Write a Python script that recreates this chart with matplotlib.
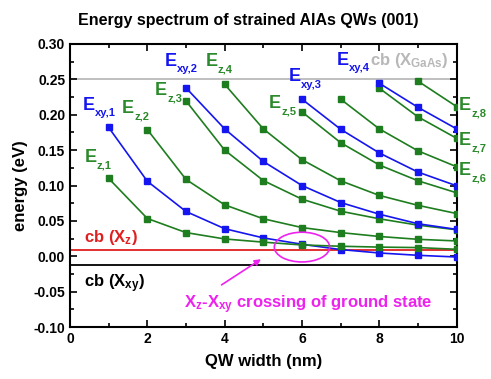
import numpy as np
import matplotlib.pyplot as plt
from matplotlib.patches import Ellipse
from matplotlib.ticker import MultipleLocator

# QW width (nm) and subband energies (eV); each series ends at width 10
width = np.arange(1, 11)

ez1 = [0.110, 0.0534, 0.0335, 0.0245, 0.020, 0.016, 0.0142, 0.013, 0.0123, 0.0099]
ez2 = [0.179, 0.1086, 0.0727, 0.053, 0.0406, 0.0335, 0.028, 0.024, 0.0217]
ez3 = [0.2195, 0.150, 0.107, 0.0807, 0.0637, 0.053, 0.044, 0.0375]
ez4 = [0.243, 0.180, 0.1365, 0.1067, 0.086, 0.072, 0.0604]
ez5 = [0.204, 0.1605, 0.129, 0.1067, 0.0897]
ez6 = [0.222, 0.180, 0.149, 0.1265]
ez7 = [0.2375, 0.197, 0.1667]
ez8 = [0.2475, 0.2115]

exy1 = [0.182, 0.106, 0.0633, 0.039, 0.026, 0.017, 0.0095, 0.0047, 0.0014, -0.001]
exy2 = [0.238, 0.180, 0.134, 0.100, 0.076, 0.0595, 0.046, 0.038]
exy3 = [0.222, 0.1795, 0.146, 0.119, 0.0996]
exy4 = [0.2445, 0.2105, 0.180]

cb_gaas = 0.25
cb_xz = 0.0085
cb_xxy = -0.013

plt.rcParams['font.family'] = ['Liberation Sans', 'DejaVu Sans']
plt.rcParams['font.weight'] = 'bold'
plt.rcParams['mathtext.fontset'] = 'custom'
for k in ['rm', 'it', 'bf', 'sf']:
    plt.rcParams['mathtext.' + k] = 'Liberation Sans:bold'

blue = '#1515f0'
green = '#1e7d1e'
green_txt = '#2b8a2b'
magenta = '#ee22ee'

fig = plt.figure(figsize=(4.91, 3.79), dpi=100)
ax = fig.add_axes([0.1426, 0.137, 0.7874, 0.747])

ax.axhline(cb_gaas, color='#b4b4b4', lw=1.2, zorder=1)
ax.axhline(cb_xz, color='#e02020', lw=1.3, zorder=1)
ax.axhline(cb_xxy, color='black', lw=1.3, zorder=1)

def draw(e, c):
    ax.plot(width[-len(e):], e, '-s', color=c, lw=1.2, ms=4.5, zorder=3)

draw(exy1, blue)
for e in [ez1, ez2, ez3, ez4, ez5, ez6, ez7, ez8]:
    draw(e, green)
for e in [exy2, exy3, exy4]:
    draw(e, blue)

# subband labels: big E with a small subscript
def elabel(x, y, sub, c):
    ax.text(x, y, 'E', color=c, fontsize=13, va='baseline', clip_on=False)
    ax.annotate(sub, (x, y), xytext=(9.0, -4.5), textcoords='offset points',
                color=c, fontsize=8, va='baseline', annotation_clip=False)

elabel(0.33, 0.207, 'xy,1', blue)
elabel(0.37, 0.1335, 'z,1', green_txt)
elabel(1.34, 0.202, 'z,2', green_txt)
elabel(2.2, 0.228, 'z,3', green_txt)
elabel(2.44, 0.269, 'xy,2', blue)
elabel(3.5, 0.269, 'z,4', green_txt)
elabel(5.15, 0.2096, 'z,5', green_txt)
elabel(5.66, 0.247, 'xy,3', blue)
elabel(6.9, 0.270, 'xy,4', blue)
elabel(10.06, 0.207, 'z,8', green_txt)
elabel(10.06, 0.157, 'z,7', green_txt)
elabel(10.06, 0.115, 'z,6', green_txt)

ax.text(7.76, 0.270, 'cb (X$_{GaAs}$)', color='#b8b8b8', fontsize=12, va='baseline')
ax.text(0.36, 0.0203, 'cb (X$_{z}$)', color='#e02020', fontsize=12, va='baseline')
ax.text(0.36, -0.0435, 'cb (X$_{xy}$)', color='black', fontsize=12, va='baseline')
ax.text(2.96, -0.074, 'X$_{z}$-X$_{xy}$ crossing of ground state', color=magenta,
        fontsize=12, va='baseline')

ax.add_patch(Ellipse((6.0, 0.013), 1.43, 0.042, fill=False, ec=magenta, lw=1.2, zorder=4))
ax.annotate('', xy=(5.0, -0.002), xytext=(3.86, -0.0425),
            arrowprops=dict(arrowstyle='-|>', color=magenta, lw=1.2, mutation_scale=9))

ax.set_xlim(0, 10)
ax.set_ylim(-0.10, 0.30)
ax.xaxis.set_major_locator(MultipleLocator(2))
ax.xaxis.set_minor_locator(MultipleLocator(1))
ax.yaxis.set_major_locator(MultipleLocator(0.05))
ax.yaxis.set_minor_locator(MultipleLocator(0.025))
ax.yaxis.set_major_formatter(lambda v, p: f'{v:.2f}')
ax.tick_params(which='both', direction='in', top=True, right=True, width=1.2, labelsize=10)
ax.tick_params(which='major', length=5)
ax.tick_params(which='minor', length=3)
for s in ax.spines.values():
    s.set_linewidth(1.5)

ax.set_xlabel('QW width (nm)', fontsize=12, fontweight='bold', labelpad=6)
ax.set_ylabel('energy (eV)', fontsize=12, fontweight='bold', labelpad=4)
fig.text(0.506, 1 - 25 / 379, 'Energy spectrum of strained AlAs QWs (001)',
         fontsize=11.5, fontweight='bold', ha='center', va='baseline')

fig.savefig('out.png', dpi=100)
